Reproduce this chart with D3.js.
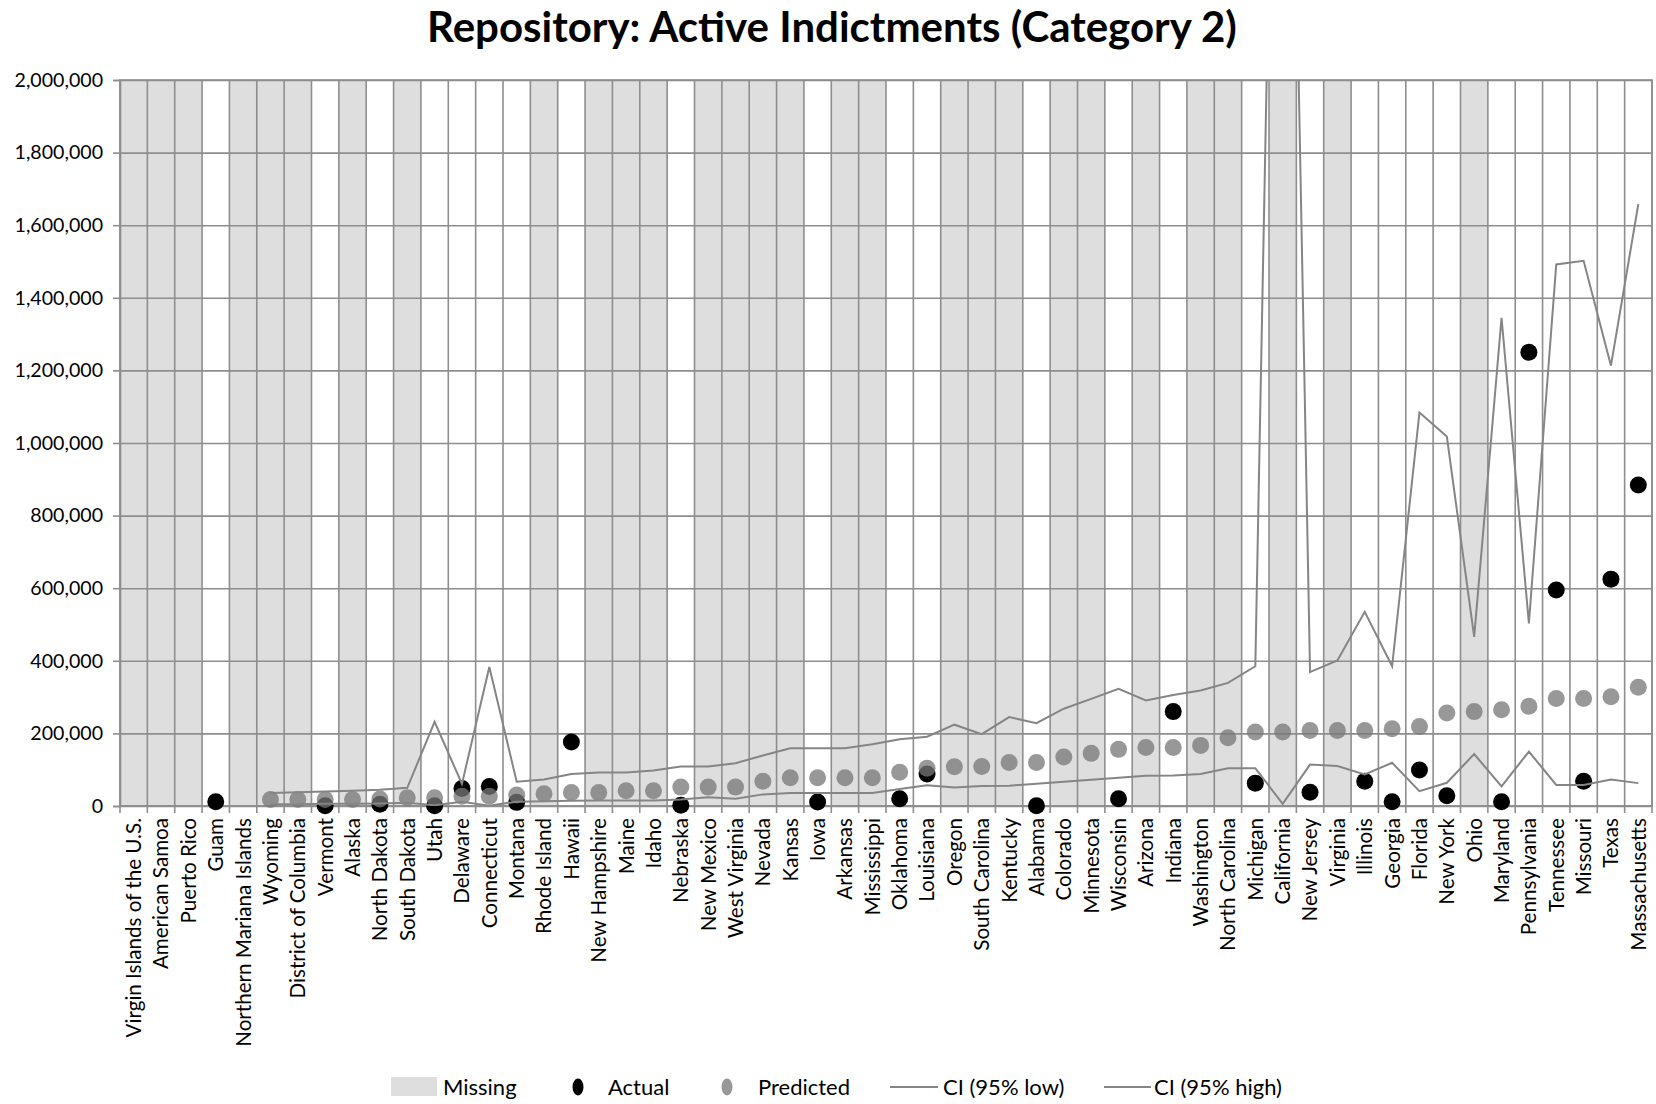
<!DOCTYPE html>
<html>
<head>
<meta charset="utf-8">
<script src="https://cdn.jsdelivr.net/npm/d3@7"></script>
<style>
  body { margin: 0; background: #fff; }
  text { font-family: Lato, "Open Sans", sans-serif; fill: #000; }
</style>
</head>
<body>
<svg id="svg0"></svg>
<script>
// categories, left to right
const states = ['Virgin Islands of the U.S.', 'American Samoa', 'Puerto Rico', 'Guam', 'Northern Mariana Islands',
    'Wyoming', 'District of Columbia', 'Vermont', 'Alaska', 'North Dakota', 'South Dakota', 'Utah', 'Delaware',
    'Connecticut', 'Montana', 'Rhode Island', 'Hawaii', 'New Hampshire', 'Maine', 'Idaho', 'Nebraska', 'New Mexico',
    'West Virginia', 'Nevada', 'Kansas', 'Iowa', 'Arkansas', 'Mississippi', 'Oklahoma', 'Louisiana', 'Oregon',
    'South Carolina', 'Kentucky', 'Alabama', 'Colorado', 'Minnesota', 'Wisconsin', 'Arizona', 'Indiana', 'Washington',
    'North Carolina', 'Michigan', 'California', 'New Jersey', 'Virginia', 'Illinois', 'Georgia', 'Florida', 'New York',
    'Ohio', 'Maryland', 'Pennsylvania', 'Tennessee', 'Missouri', 'Texas', 'Massachusetts'];

// "Missing" bars: full height where the state reported nothing
const missing = [2000000, 2000000, 2000000, null, 2000000,
    2000000, 2000000, null, 2000000, null, 2000000, null, null,
    null, null, 2000000, null, 2000000, 2000000, 2000000, null, 2000000,
    2000000, 2000000, 2000000, null, 2000000, 2000000, null, null, 2000000,
    2000000, 2000000, null, 2000000, 2000000, null, 2000000, null, 2000000,
    2000000, null, 2000000, null, 2000000, null, null, null, null,
    2000000, null, null, null, null, null, null];

const actual = [null, null, null, 12000, null,
    null, null, 1000, null, 5000, null, 1000, 48000,
    54000, 10000, null, 176000, null, null, null, 2000, null,
    null, null, null, 11000, null, null, 20000, 88000, null,
    null, null, 1000, null, null, 20000, null, 260000, null,
    null, 63000, null, 38000, null, 68000, 12000, 99000, 28000,
    null, 12000, 1250000, 595000, 68000, 625000, 884000];

const predicted = [null, null, null, null, null,
    18000, 18000, 18000, 18000, 19000, 23000, 23000, 27000,
    27000, 30000, 34000, 37000, 37000, 42000, 42000, 52000, 52000,
    52000, 68000, 78000, 78000, 78000, 78000, 93000, 104000, 108000,
    109000, 120000, 120000, 135000, 145000, 156000, 161000, 161000, 167000,
    188000, 204000, 204000, 208000, 208000, 208000, 213000, 219000, 256000,
    260000, 265000, 275000, 296000, 296000, 301000, 327000];

const ciLow = [null, null, null, null, null,
    5000, 5000, 6000, 6000, 7000, 9000, 2000, 12000,
    1000, 12000, 13000, 14500, 15000, 15000, 15000, 18000, 24000,
    20000, 32000, 35500, 36000, 36000, 36000, 47000, 57000, 51000,
    55000, 56000, 61000, 67000, 72000, 78000, 83000, 84000, 88000,
    104000, 104000, 6000, 114000, 110000, 87000, 119000, 41000, 64000,
    143000, 54000, 150000, 58000, 58000, 73000, 63000];

const ciHigh = [null, null, null, null, null,
    36000, 38000, 40000, 42000, 45000, 50000, 232000, 61000,
    383000, 67000, 73000, 88000, 92000, 92000, 98000, 109000, 109000,
    118000, 139000, 159000, 159000, 159000, 170000, 184000, 191000, 224000,
    198000, 245000, 228000, 268000, 295000, 323000, 291000, 306000, 318000,
    339000, 385000, 4300000, 369000, 401000, 535000, 385000, 1084000, 1018000,
    466000, 1345000, 503000, 1492000, 1502000, 1213000, 1658000];

const yTicks = [0, 200000, 400000, 600000, 800000, 1000000, 1200000, 1400000, 1600000, 1800000, 2000000];

let width = 1656;
let height = 1104;
let plot = {left: 120, right: 1652, top: 80, bottom: 806};
let gridColor = '#8e8e8e';
let lineColor = '#858585';

let svg = d3.select('#svg0').attr('width', width).attr('height', height);

let xScale = d3.scaleBand().domain(states).range([plot.left, plot.right]).padding(0);
let yScale = d3.scaleLinear().domain([0, 2000000]).range([plot.bottom, plot.top]);
let cx = i => xScale(states[i]) + xScale.bandwidth() / 2;

svg.append('defs').append('clipPath').attr('id', 'plotClip')
    .append('rect').attr('x', plot.left).attr('y', plot.top)
    .attr('width', plot.right - plot.left).attr('height', plot.bottom - plot.top);

// missing bars
svg.append('g').selectAll('rect').data(missing.map((v, i) => ({v, i})).filter(d => d.v != null))
    .enter().append('rect')
    .attr('x', d => xScale(states[d.i]))
    .attr('y', d => yScale(d.v))
    .attr('width', xScale.bandwidth())
    .attr('height', d => yScale(0) - yScale(d.v))
    .style('fill', '#dedede');

// horizontal gridlines
svg.append('g').attr('transform', 'translate(' + plot.left + ',0)')
    .call(d3.axisLeft(yScale).tickValues(yTicks).tickSize(-(plot.right - plot.left)).tickFormat(''))
    .call(g => g.select('.domain').remove())
    .selectAll('line').style('stroke', gridColor).style('stroke-width', '1.6px');

// vertical gridlines at category boundaries
let edges = states.map(s => xScale(s)).concat([plot.right]);
svg.append('g').selectAll('line').data(edges).enter().append('line')
    .attr('x1', d => d).attr('x2', d => d)
    .attr('y1', plot.top).attr('y2', plot.bottom)
    .style('stroke', gridColor).style('stroke-width', '1.6px');

// x axis: labels through the band axis, ticks at the boundaries
let xAxis = svg.append('g').attr('transform', 'translate(0,' + plot.bottom + ')')
    .call(d3.axisBottom(xScale).tickSize(0));
xAxis.select('.domain').remove();
xAxis.selectAll('text')
    .attr('transform', 'rotate(-90)')
    .attr('x', -12)
    .attr('y', 0)
    .attr('dy', '0.36em')
    .style('text-anchor', 'end')
    .style('font-size', '20.6px')
    .style('font-family', 'Lato');
svg.append('g').selectAll('line').data(edges).enter().append('line')
    .attr('x1', d => d).attr('x2', d => d)
    .attr('y1', plot.bottom).attr('y2', plot.bottom + 7)
    .style('stroke', gridColor).style('stroke-width', '1.6px');
svg.append('line').attr('x1', plot.left).attr('x2', plot.right)
    .attr('y1', plot.bottom).attr('y2', plot.bottom)
    .style('stroke', gridColor).style('stroke-width', '1.6px');

// y axis
let yAxis = svg.append('g').attr('transform', 'translate(' + plot.left + ',0)')
    .call(d3.axisLeft(yScale).tickValues(yTicks).tickSize(7).tickPadding(10).tickFormat(d3.format(',')));
yAxis.select('.domain').style('stroke', gridColor).style('stroke-width', '1.6px');
yAxis.selectAll('line').style('stroke', gridColor).style('stroke-width', '1.6px');
yAxis.selectAll('text').style('font-size', '19.6px').style('font-family', 'Lato');

// plot border
svg.append('rect').attr('x', plot.left).attr('y', plot.top)
    .attr('width', plot.right - plot.left).attr('height', plot.bottom - plot.top)
    .style('fill', 'none').style('stroke', gridColor).style('stroke-width', '1.6px');

// actual and predicted points
svg.append('g').selectAll('circle').data(actual.map((v, i) => ({v, i})).filter(d => d.v != null))
    .enter().append('circle')
    .attr('cx', d => cx(d.i)).attr('cy', d => yScale(d.v)).attr('r', 8.5)
    .style('fill', '#000');
svg.append('g').selectAll('circle').data(predicted.map((v, i) => ({v, i})).filter(d => d.v != null))
    .enter().append('circle')
    .attr('cx', d => cx(d.i)).attr('cy', d => yScale(d.v)).attr('r', 8.5)
    .style('fill', '#777').style('fill-opacity', 0.76);

// confidence interval lines
let ciLine = d3.line().defined(d => d != null).x((d, i) => cx(i)).y(d => yScale(d));
[ciLow, ciHigh].forEach(series => {
    svg.append('path').datum(series)
        .attr('clip-path', 'url(#plotClip)')
        .attr('d', ciLine)
        .style('fill', 'none').style('stroke', lineColor).style('stroke-width', '2px');
});

// title
svg.append('text')
    .attr('x', 832).attr('y', 42)
    .text('Repository: Active Indictments (Category 2)')
    .style('font-size', '42px').style('font-weight', 'bold').style('text-anchor', 'middle');

// legend
let legend = svg.append('g').attr('transform', 'translate(0,1087)');
legend.append('rect').attr('x', 391).attr('y', -10).attr('width', 46).attr('height', 19).style('fill', '#dedede');
legend.append('ellipse').attr('cx', 578).attr('cy', 0).attr('rx', 5.5).attr('ry', 8.5).style('fill', '#000');
legend.append('ellipse').attr('cx', 727).attr('cy', 0).attr('rx', 5.5).attr('ry', 8.5)
    .style('fill', '#777').style('fill-opacity', 0.76);
legend.append('line').attr('x1', 890).attr('x2', 938).attr('y1', 0).attr('y2', 0)
    .style('stroke', lineColor).style('stroke-width', '2px');
legend.append('line').attr('x1', 1104).attr('x2', 1151).attr('y1', 0).attr('y2', 0)
    .style('stroke', lineColor).style('stroke-width', '2px');
let legendLabels = [['Missing', 443], ['Actual', 608], ['Predicted', 758], ['CI (95% low)', 943], ['CI (95% high)', 1154]];
legend.selectAll('.legend').data(legendLabels).enter().append('text')
    .attr('class', 'legend')
    .attr('x', d => d[1]).attr('y', 0).attr('dy', '0.36em')
    .text(d => d[0])
    .style('font-size', '22px');
</script>
</body>
</html>
